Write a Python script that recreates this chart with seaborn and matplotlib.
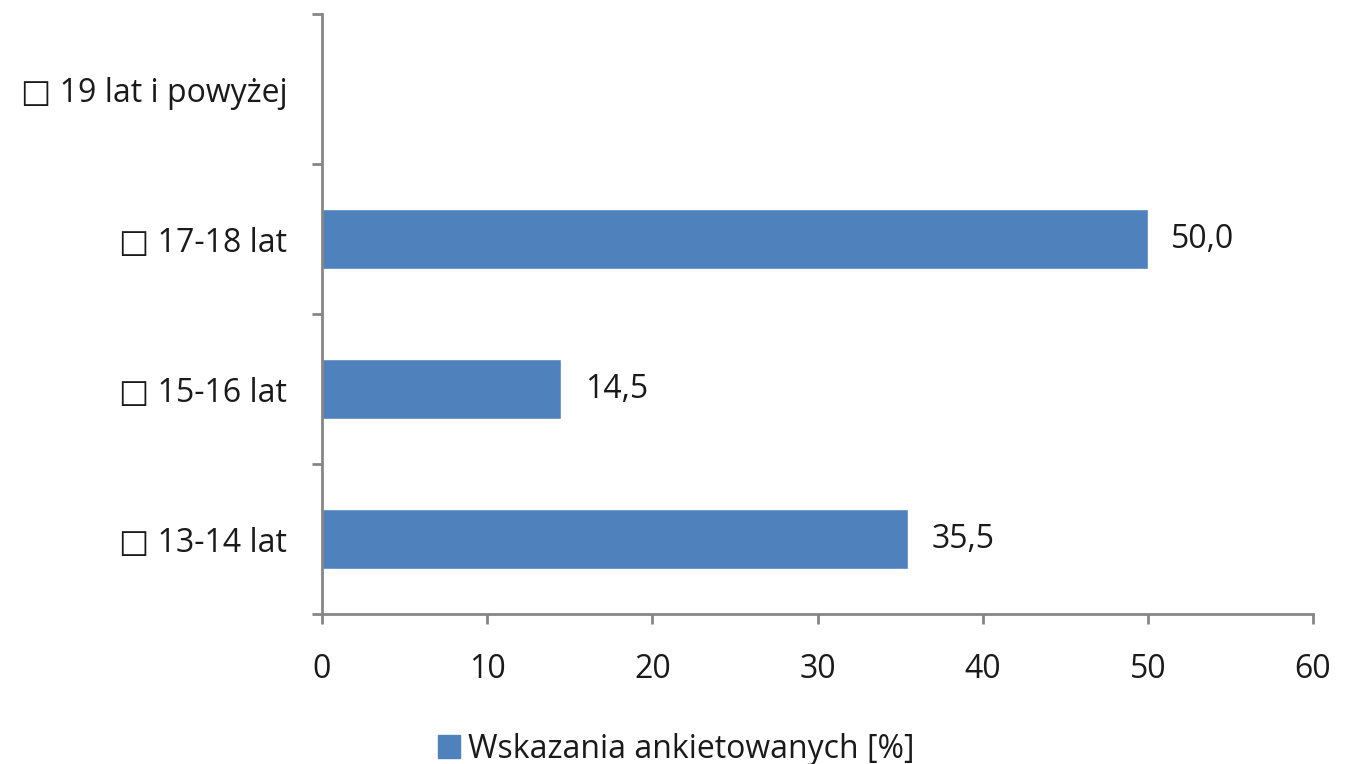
import matplotlib
matplotlib.use("Agg")
import matplotlib.pyplot as plt
import pandas as pd
import seaborn as sns
from matplotlib.patches import Patch

categories = ["□ 19 lat i powyżej", "□ 17-18 lat", "□ 15-16 lat", "□ 13-14 lat"]
values = [0.0, 50.0, 14.5, 35.5]
x_ticks = [0, 10, 20, 30, 40, 50, 60]
legend_label = "Wskazania ankietowanych [%]"

BAR_COLOR = "#4F81BD"
AXIS_COLOR = "#868686"
TEXT_COLOR = "#1a1a1a"
FS = 23

sns.set_style("white")
plt.rcParams["font.family"] = ["Open Sans", "DejaVu Sans"]

df = pd.DataFrame({"group": categories, "value": values})

fig = plt.figure(figsize=(13.52, 7.64), dpi=100)
ax = fig.add_axes([322 / 1352, 1 - 614 / 764, (1313 - 322) / 1352, 600 / 764])

sns.barplot(data=df, x="value", y="group", order=categories, color=BAR_COLOR,
            saturation=1, width=0.4, ax=ax)

ax.set_xlim(0, 60)
ax.set_ylim(len(categories) - 0.5, -0.5)
ax.set_xticks(x_ticks)
ax.set_xticklabels([str(t) for t in x_ticks], fontsize=FS, color=TEXT_COLOR)

# tick marks between categories, labels at the category centres
ax.set_yticks([i - 0.5 for i in range(len(categories) + 1)])
ax.set_yticklabels([])
ax.set_yticks(range(len(categories)), minor=True)
ax.set_yticklabels(categories, minor=True, fontsize=FS, color=TEXT_COLOR)
ax.tick_params(axis="y", which="minor", left=True, length=0, pad=25)
ax.tick_params(axis="y", which="major", left=True, length=7, width=2,
               color=AXIS_COLOR, direction="out")
ax.tick_params(axis="x", bottom=True, length=7, width=2, color=AXIS_COLOR,
               direction="out", pad=21)
ax.set_xlabel("")
ax.set_ylabel("")

for side in ["top", "right"]:
    ax.spines[side].set_visible(False)
for side in ["left", "bottom"]:
    ax.spines[side].set_color(AXIS_COLOR)
    ax.spines[side].set_linewidth(2)

for i, v in enumerate(values):
    if v > 0:
        ax.text(v + 1.4, i, f"{v:.1f}".replace(".", ","), va="center", ha="left",
                fontsize=FS, color=TEXT_COLOR)

fig.legend(handles=[Patch(color=BAR_COLOR, label=legend_label)], loc="lower center",
           bbox_to_anchor=(0.5, -0.04), frameon=False, fontsize=FS, handlelength=0.7,
           handleheight=0.7, handletextpad=0.25, labelcolor=TEXT_COLOR)

fig.savefig("out.png", dpi=100)
